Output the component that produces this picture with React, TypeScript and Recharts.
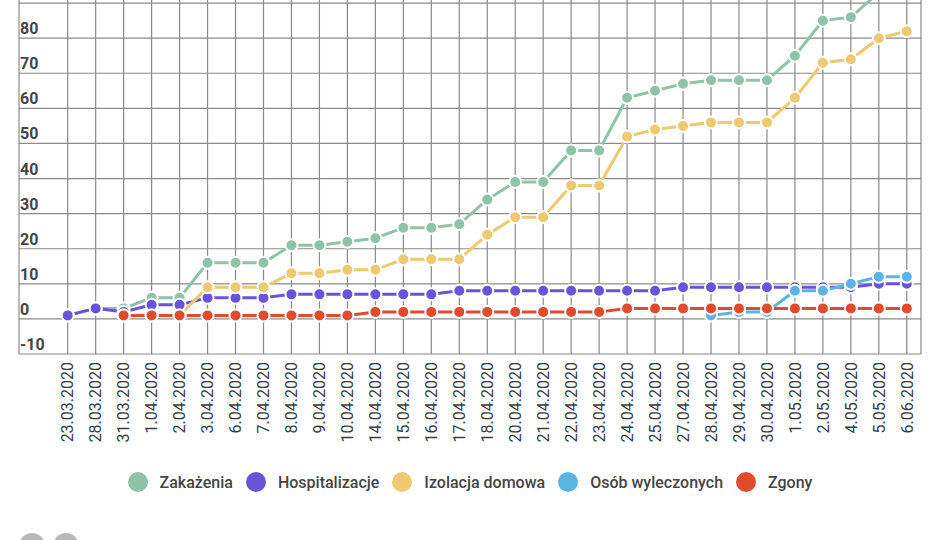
import { LineChart, Line, XAxis, YAxis, CartesianGrid } from "recharts";

const dates = [
  "23.03.2020", "28.03.2020", "31.03.2020", "1.04.2020", "2.04.2020",
  "3.04.2020", "6.04.2020", "7.04.2020", "8.04.2020", "9.04.2020",
  "10.04.2020", "14.04.2020", "15.04.2020", "16.04.2020", "17.04.2020",
  "18.04.2020", "20.04.2020", "21.04.2020", "22.04.2020", "23.04.2020",
  "24.04.2020", "25.04.2020", "27.04.2020", "28.04.2020", "29.04.2020",
  "30.04.2020", "1.05.2020", "2.05.2020", "4.05.2020", "5.05.2020",
  "6.06.2020",
];

const zakazenia = [
  1, 3, 3, 6, 6, 16, 16, 16, 21, 21, 22, 23, 26, 26, 27, 34, 39, 39, 48, 48,
  63, 65, 67, 68, 68, 68, 75, 85, 86, 93, 96,
];
const hospitalizacje = [
  1, 3, 2, 4, 4, 6, 6, 6, 7, 7, 7, 7, 7, 7, 8, 8, 8, 8, 8, 8,
  8, 8, 9, 9, 9, 9, 9, 9, 9, 10, 10,
];
const izolacja = [
  null, null, 1, 1, 1, 9, 9, 9, 13, 13, 14, 14, 17, 17, 17, 24, 29, 29, 38, 38,
  52, 54, 55, 56, 56, 56, 63, 73, 74, 80, 82,
];
const wyleczeni = [
  null, null, null, null, null, null, null, null, null, null, null, null, null,
  null, null, null, null, null, null, null, null, null, null,
  1, 2, 2, 8, 8, 10, 12, 12,
];
const zgony = [
  null, null, 1, 1, 1, 1, 1, 1, 1, 1, 1, 2, 2, 2, 2, 2, 2, 2, 2, 2,
  3, 3, 3, 3, 3, 3, 3, 3, 3, 3, 3,
];

const yTicks = [-10, 0, 10, 20, 30, 40, 50, 60, 70, 80, 90, 100];
// the top of the chart is cropped, labels above this are not visible
const yLabelMax = 80;

const series = [
  { key: "zakazenia", name: "Zakażenia", color: "#8dc4a8" },
  { key: "hospitalizacje", name: "Hospitalizacje", color: "#6a53da" },
  { key: "izolacja", name: "Izolacja domowa", color: "#f0c870" },
  { key: "wyleczeni", name: "Osób wyleczonych", color: "#5bb5e4" },
  { key: "zgony", name: "Zgony", color: "#e04b2c" },
];

const data = dates.map((date, i) => ({
  date,
  zakazenia: zakazenia[i],
  hospitalizacje: hospitalizacje[i],
  izolacja: izolacja[i],
  wyleczeni: wyleczeni[i],
  zgony: zgony[i],
}));

const XTick = ({ x, y, payload }: any) => (
  <text
    x={x}
    y={y}
    transform={`rotate(-90 ${x} ${y})`}
    textAnchor="end"
    dy="0.36em"
    fontSize={16}
    fill="#3c3c3c"
    fontFamily="Roboto"
  >
    {payload.value}
  </text>
);

const YTick = ({ y, payload }: any) => {
  if (payload.value > yLabelMax) return <g />;
  return (
    <text
      x={20}
      y={y - 4}
      textAnchor="start"
      fontSize={16}
      fontWeight="bold"
      fill="#454545"
      fontFamily="Roboto"
    >
      {payload.value}
    </text>
  );
};

export default function App() {
  return (
    <div
      style={{
        position: "absolute",
        left: 0,
        top: 0,
        width: 950,
        height: 540,
        overflow: "hidden",
        background: "#fff",
        fontFamily: "Roboto",
      }}
    >
      <div style={{ position: "absolute", left: 0, top: -40 }}>
        <LineChart
          width={950}
          height={580}
          data={data}
          margin={{ top: 8, right: 29, bottom: 96, left: 0 }}
        >
          <CartesianGrid stroke="#8a8a8a" strokeWidth={1.2} />
          <XAxis
            dataKey="date"
            interval={0}
            tickLine={false}
            axisLine={false}
            tick={<XTick />}
            height={90}
            padding={{ left: 48.7, right: 14.2 }}
          />
          <YAxis
            domain={[-10, 100]}
            ticks={yTicks}
            interval={0}
            width={19}
            tickLine={false}
            axisLine={false}
            tick={<YTick />}
          />
          {series.map((s) => (
            <Line
              key={s.key}
              dataKey={s.key}
              name={s.name}
              stroke={s.color}
              strokeWidth={3}
              dot={{ r: 6, fill: s.color, stroke: "#fff", strokeWidth: 2 }}
              isAnimationActive={false}
            />
          ))}
        </LineChart>
      </div>
      <div
        style={{
          position: "absolute",
          left: 19,
          width: 902,
          top: 472,
          display: "flex",
          justifyContent: "center",
          alignItems: "center",
          gap: 13,
        }}
      >
        {series.map((s) => (
          <div key={s.key} style={{ display: "flex", alignItems: "center" }}>
            <span
              style={{
                width: 20,
                height: 20,
                borderRadius: 10,
                background: s.color,
                marginRight: 12,
                display: "inline-block",
              }}
            />
            <span style={{ fontSize: 16, fontWeight: 500, color: "#444" }}>
              {s.name}
            </span>
          </div>
        ))}
      </div>
      <div
        style={{
          position: "absolute",
          left: 19,
          top: 533,
          width: 26,
          height: 26,
          borderRadius: 13,
          background: "#b8b8b8",
        }}
      />
      <div
        style={{
          position: "absolute",
          left: 53,
          top: 533,
          width: 26,
          height: 26,
          borderRadius: 13,
          background: "#b8b8b8",
        }}
      />
    </div>
  );
}
